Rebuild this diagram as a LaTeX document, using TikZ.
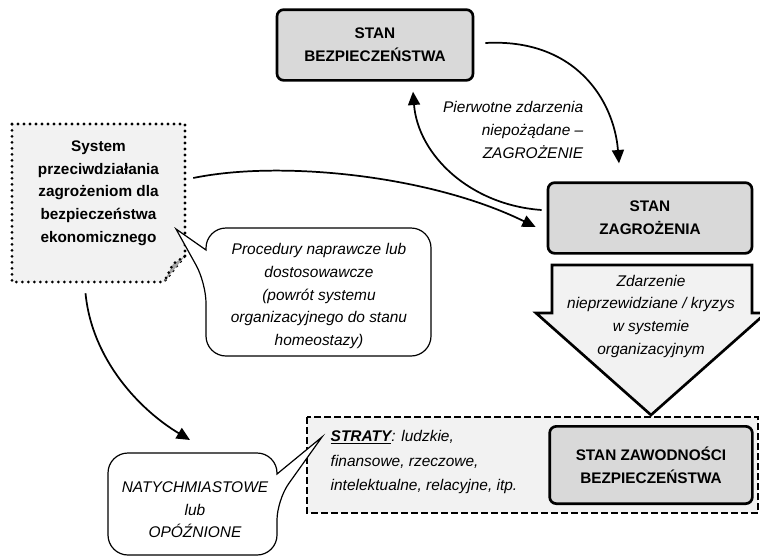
\documentclass[tikz,border=0pt]{standalone}
\usepackage{fontspec}
\setmainfont{Liberation Sans}
\usepackage{tikz}
\usetikzlibrary{arrows.meta, positioning, calc}

\begin{document}
\begin{tikzpicture}[x=0.75pt, y=-0.75pt,
    every node/.style={align=center, font=\fontsize{11.6}{17}\selectfont},
    statebox/.style={draw, line width=2pt, rounded corners=5pt, fill=black!15,
        minimum width=150pt, minimum height=53pt, font=\fontsize{11.5}{17}\selectfont\bfseries},
    note/.style={font=\fontsize{11.6}{17}\selectfont\itshape},
    flow/.style={-{Triangle[length=10pt, width=9pt]}, line width=1.3pt},
    bubble/.style={draw, line width=0.9pt, fill=white},
    dotline/.style={line width=2.3pt, line cap=round, dash pattern=on 0pt off 4.5pt}]

    \useasboundingbox (0,0) rectangle (760,557);

    % Lower dashed area with losses
    \draw[fill=black!5, line width=0.9pt, dash pattern=on 5pt off 2.5pt] (307,417) rectangle (758,513);

    % Big arrow down
    \draw[line width=2pt, fill=black!5] (552,265) -- (752,265) -- (752,313) -- (766,313)
        -- (651,415) -- (536,313) -- (552,313) -- cycle;
    \node[note] (kryzys) at (651,316) {Zdarzenie\\nieprzewidziane / kryzys\\w systemie\\organizacyjnym};

    % States
    \node[statebox, minimum width=147pt] (bez) at (375,45) {STAN\\BEZPIECZEŃSTWA};
    \node[statebox, minimum width=153pt] (zag) at (650,218) {STAN\\ZAGROŻENIA};
    \node[statebox, minimum width=152pt, minimum height=58pt] (zaw) at (651,465) {STAN ZAWODNOŚCI\\BEZPIECZEŃSTWA};

    % System box (dotted, folded corner)
    \draw[dotline, fill=black!5] (12,124) -- (185,124) -- (185,256) -- (164,282) -- (12,282) -- cycle;
    \draw[dotline, fill=black!35] (185,256) -- (173,264) -- (164,282);
    \node[minimum width=129.75pt, minimum height=118.5pt,
        label={[yshift=7.5pt, font=\fontsize{11.5}{17}\selectfont\bfseries]center:System\\przeciwdziałania\\zagrożeniom dla\\bezpieczeństwa\\ekonomicznego}]
        (sys) at (98.5,203) {};

    % Speech bubbles
    \draw[bubble] (206,250) [rounded corners=15pt] -- (206,228) -- (431,228) -- (431,356)
        -- (206,356) -- (206,283) [sharp corners] -- (176,229) -- cycle;
    \node[note] (proc) at (319,296) {Procedury naprawcze lub\\dostosowawcze\\(powrót systemu\\organizacyjnego do stanu\\homeostazy)};

    \draw[bubble] (277,474) [rounded corners=15pt] -- (277,453) -- (108,453) -- (108,555)
        -- (277,555) -- (277,500) [sharp corners] -- (322,437) -- cycle;
    \node[note] (nat) at (195,510) {NATYCHMIASTOWE\\lub\\OPÓŹNIONE};

    % Texts
    \node[note, align=right, anchor=east] (pierw) at (588,130) {Pierwotne zdarzenia\\niepożądane --\\ZAGROŻENIE};
    \node[note, align=left, anchor=west, font=\fontsize{11.6}{18.4}\selectfont\itshape] (straty) at (326,462)
        {\textbf{\underline{STRATY}}: ludzkie,\\finansowe, rzeczowe,\\intelektualne, relacyjne, itp.};

    % Arrows
    \coordinate (hit) at (190,440);
    \draw[flow] ($(bez.east)+(11,-2)$) .. controls (575,38) and (614,100) .. ($(zag.north)+(-31,-18)$);
    \draw[flow] ($(zag.west)+(-5,-8)$) .. controls (470,205) and (418,155) .. ($(bez.south)+(38,10)$);
    \draw[flow] ($(sys.east)+(8,-25)$) .. controls (280,160) and (430,175) .. ($(zag.west)+(-11,9)$);
    \draw[flow] ($(sys.south)+(-13,11)$) .. controls (92,360) and (140,410) .. (hit);
\end{tikzpicture}
\end{document}
